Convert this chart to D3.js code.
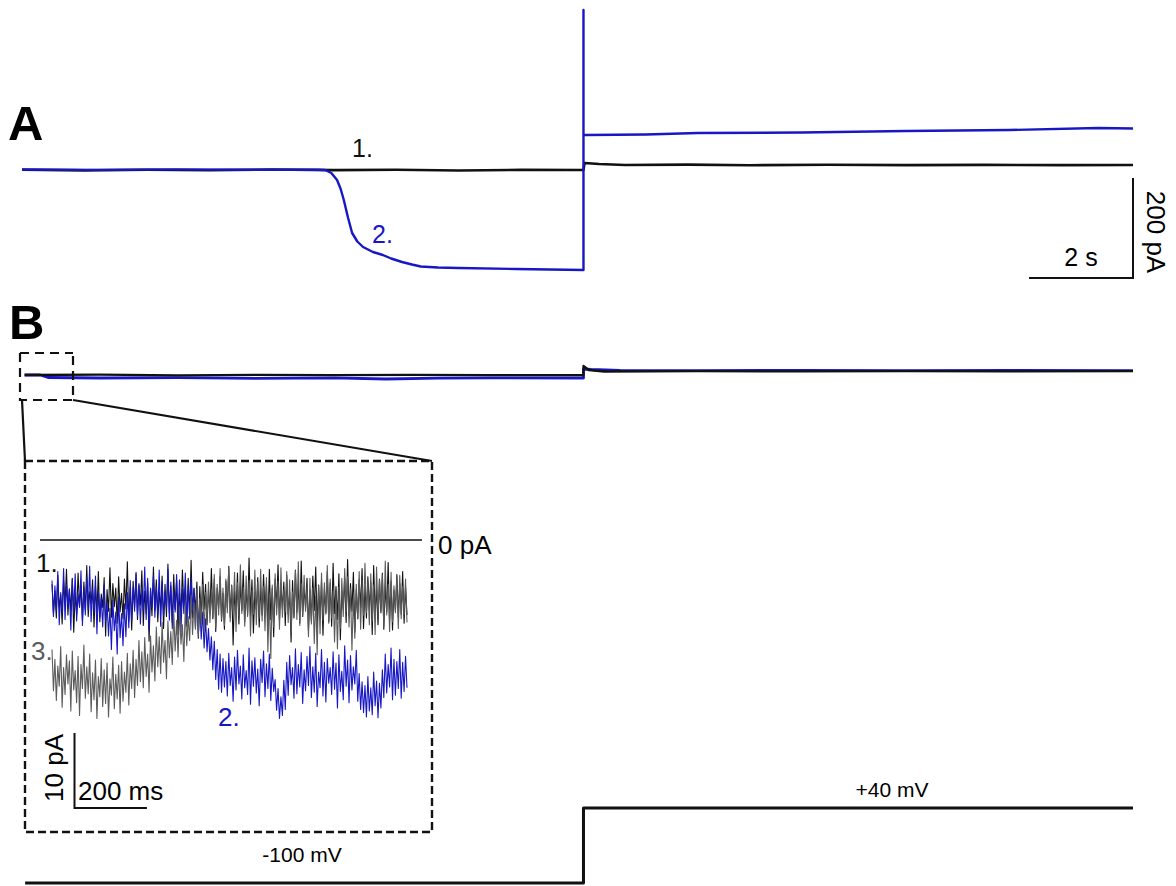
<!DOCTYPE html>
<html lang="en">
<head>
<meta charset="UTF-8">
<title>Traces</title>
<script src="https://d3js.org/d3.v7.min.js"></script>
<style>
    body { margin: 0; background: #fff; }
    text { font-family: "Liberation Sans", Arial, sans-serif; }
    .trace { fill: none; stroke-linejoin: round; }
    .panel { font-weight: bold; font-size: 49px; }
</style>
</head>
<body>
<svg width="1176" height="886"></svg>
<script>
    // panel A: time (s) and current (pA, relative to holding baseline)
    const aBlackT = [0, 1.2, 2.4, 3.6, 4.8, 6.0, 7.2, 8.4, 9.6, 10.8, 10.82, 11.1, 11.6, 12.8, 14.0, 15.5, 17.0, 18.5, 20.0, 21.37];
    const aBlackI = [0.6, -0.8, 0.4, -0.6, 0.9, -0.3, 0.5, -0.9, 0.2, 0, 14, 12, 10, 10.8, 9.6, 10.4, 9.8, 10.2, 9.7, 10];
    const aBlueT = [0, 1.5, 3.0, 4.5, 5.7, 5.83, 5.95, 6.06, 6.13, 6.19, 6.27, 6.35, 6.45, 6.56, 6.75, 6.94, 7.1, 7.31, 7.5, 7.67, 8.0, 8.4, 9.5, 10.8, 10.8, 10.8, 10.85, 12.0, 13.0, 15.0, 17.0, 19.0, 20.7, 21.37];
    const aBlueI = [1.0, 0.2, 1.2, 0.4, 0.6, 0, -6, -20, -38, -60, -95, -126, -143, -154, -164, -170, -177, -184, -189, -193, -195, -196, -198, -200, 320, 70, 70, 71, 74, 75, 78, 80, 84, 83];

    // panel B (same scales as A)
    const bBlackT = [0.05, 1.5, 3.0, 4.5, 6.0, 7.5, 9.0, 10.8, 10.8, 10.9, 11.2, 13.0, 15.0, 17.0, 19.0, 21.37];
    const bBlackI = [-8, -7.4, -8.6, -7.6, -8.4, -7.8, -8.2, -8, 10, 2, -1, -0.4, -0.8, -0.2, -0.6, -0.4];
    const bBlueT = [0.05, 0.35, 0.5, 1.5, 3.0, 4.5, 6.0, 7.0, 8.0, 9.0, 10.8, 10.8, 10.95, 11.5, 13.0, 15.0, 17.0, 19.0, 21.37];
    const bBlueI = [-8, -8, -13, -14, -13.4, -14.6, -13.6, -16, -14.2, -13.8, -14, 4, 3, 1.4, 0.8, 1.2, 0.6, 1.0, 0.8];

    // inset: 4 ms sampling (0-980 ms), current in pA
    const inTimes = d3.range(0, 984, 4);
    const trace1 = [
        -5.9,-9.8,-6.8,-10.4,-4.7,-9.1,-7.3,-11.2,-5.4,-8.6,-3.9,-10.0,
        -6.5,-9.4,-5.1,-12.3,-7.0,-9.9,-4.4,-8.8,-6.2,-10.7,-5.6,-9.3,
        -3.4,-10.2,-6.9,-8.5,-5.3,-11.6,-6.1,-9.7,-4.2,-10.9,-7.2,-9.0,
        -5.0,-12.8,-6.6,-9.5,-3.7,-10.3,-5.8,-8.9,-6.4,-11.1,-4.9,-9.6,
        -7.1,-10.5,-5.2,-9.2,-2.9,-10.8,-6.3,-12.0,-5.5,-9.0,-4.5,-10.6,
        -6.0,-8.7,-4.1,-11.4,-6.8,-9.8,-5.7,-13.5,-6.6,-10.1,-3.6,-9.4,
        -5.3,-10.9,-6.9,-9.1,-4.8,-11.8,-5.9,-10.2,-3.2,-9.7,-6.1,-11.0,
        -4.6,-9.3,-5.4,-12.6,-7.0,-10.0,-4.0,-8.8,-6.3,-11.5,-5.1,-9.9,
        -2.7,-10.4,-6.5,-9.5,-5.6,-13.1,-6.2,-10.7,-4.3,-9.2,-5.9,-11.3,
        -6.7,-9.6,-3.8,-10.5,-5.2,-12.2,-6.4,-9.1,-4.9,-10.8,-7.1,-11.9,
        -5.5,-9.0,-3.5,-10.3,-6.0,-14.0,-6.8,-9.7,-4.4,-11.2,-5.7,-9.4,
        -4.1,-10.9,-6.6,-9.8,-2.4,-10.1,-5.3,-12.4,-6.9,-9.3,-5.0,-11.6,
        -6.2,-10.0,-4.6,-9.5,-5.8,-11.9,-3.9,-10.6,-6.4,-12.9,-5.2,-9.1,
        -3.3,-10.7,-6.1,-9.2,-5.6,-11.4,-4.7,-9.9,-6.9,-13.6,-5.4,-10.4,
        -4.0,-9.6,-5.9,-11.1,-2.8,-10.2,-6.3,-9.0,-5.1,-12.1,-6.7,-10.8,
        -4.8,-9.4,-3.6,-11.7,-6.0,-10.3,-5.5,-12.7,-6.5,-9.7,-4.2,-10.9,
        -5.7,-11.5,-3.1,-9.8,-6.2,-10.6,-4.5,-13.3,-6.8,-9.2,-5.0,-11.0,
        -2.6,-10.1,-5.8,-9.5,-4.3,-12.3,-6.6,-10.5,-5.3,-9.0,-3.8,-11.8,
        -6.1,-10.4,-4.9,-9.3,-5.6,-12.6,-3.4,-10.0,-6.4,-11.3,-5.2,-9.7,
        -4.4,-11.9,-6.0,-9.6,-3.0,-10.7,-5.5,-12.0,-6.7,-9.4,-4.6,-10.3,
        -5.8,-9.9,-4.2,-11.1,-6.3,-10.0];
    const trace2 = [
        -5.4,-10.2,-6.1,-9.4,-4.2,-11.3,-7.0,-9.8,-3.8,-10.6,-5.9,-9.1,
        -6.6,-12.0,-5.2,-9.6,-4.5,-10.8,-7.2,-9.0,-4.1,-11.4,-6.3,-10.0,
        -5.0,-9.3,-3.5,-10.9,-6.5,-9.7,-4.8,-12.5,-6.9,-10.3,-7.8,-11.6,
        -6.0,-10.9,-8.3,-12.8,-9.1,-14.6,-8.0,-12.1,-9.6,-15.2,-7.6,-13.0,
        -9.8,-14.1,-8.5,-12.9,-7.0,-11.7,-5.4,-10.8,-6.3,-9.5,-4.3,-10.1,
        -5.8,-11.2,-6.7,-9.4,-3.6,-10.6,-5.1,-12.0,-6.4,-9.0,-4.7,-10.3,
        -6.2,-9.9,-4.0,-11.5,-5.5,-10.1,-6.8,-9.2,-3.9,-10.7,-5.6,-11.8,
        -6.9,-9.6,-4.6,-10.4,-5.3,-12.3,-6.5,-9.8,-4.4,-11.0,-6.0,-10.5,
        -5.1,-9.4,-6.4,-11.7,-7.2,-12.5,-8.8,-13.2,-9.6,-14.4,-10.5,-14.9,
        -11.8,-16.0,-12.9,-17.3,-13.5,-18.6,-14.6,-19.9,-15.2,-20.3,-15.8,-19.6,
        -16.2,-20.8,-15.1,-19.4,-17.0,-21.5,-15.6,-20.0,-14.7,-19.2,-16.8,-21.2,
        -15.3,-19.7,-17.4,-20.6,-14.4,-21.9,-16.1,-19.5,-15.7,-20.4,-17.2,-22.1,
        -15.9,-19.0,-14.8,-20.9,-16.5,-19.8,-15.2,-21.4,-17.1,-20.2,-18.6,-22.7,
        -19.8,-23.8,-20.9,-23.4,-18.7,-22.6,-16.3,-20.7,-15.4,-19.3,-17.0,-21.1,
        -14.5,-20.5,-16.6,-19.6,-15.0,-21.8,-17.3,-20.1,-15.5,-19.4,-14.2,-21.0,
        -16.9,-20.3,-15.1,-22.2,-17.6,-19.7,-14.6,-20.8,-16.3,-21.6,-15.8,-19.1,
        -17.0,-20.6,-14.9,-19.9,-16.4,-22.4,-15.3,-20.2,-17.5,-21.3,-14.1,-19.5,
        -16.0,-21.7,-15.4,-20.0,-16.9,-19.2,-14.7,-21.5,-17.8,-22.6,-18.9,-23.0,
        -19.4,-23.6,-18.2,-22.8,-19.7,-23.3,-17.6,-22.1,-18.8,-23.7,-19.1,-22.4,
        -17.3,-21.0,-15.2,-20.4,-16.6,-19.6,-14.4,-21.3,-15.9,-20.7,-16.2,-19.8,
        -14.6,-21.1,-16.3,-20.2,-15.5,-19.7];
    const trace3 = [
        -14.6,-20.1,-15.9,-21.4,-16.8,-19.5,-14.2,-22.3,-17.0,-20.6,-15.3,-19.2,
        -16.1,-22.8,-14.8,-20.0,-17.4,-21.7,-15.5,-23.4,-16.6,-19.8,-14.0,-21.1,
        -16.9,-20.5,-15.2,-22.9,-17.7,-21.3,-16.0,-23.8,-18.2,-20.9,-15.8,-22.2,
        -17.3,-21.8,-16.4,-23.6,-18.5,-20.7,-15.6,-22.5,-17.9,-21.2,-16.7,-23.1,
        -16.2,-21.5,-17.6,-20.3,-15.1,-22.0,-16.5,-19.8,-14.7,-21.0,-15.9,-19.4,
        -13.4,-18.9,-14.9,-19.7,-13.0,-18.2,-15.2,-20.3,-12.8,-17.6,-14.1,-18.8,
        -11.6,-16.9,-12.9,-17.8,-11.0,-16.3,-13.4,-18.5,-10.8,-15.7,-12.2,-16.6,
        -9.5,-14.8,-10.7,-15.6,-9.0,-13.9,-11.3,-16.2,-8.8,-14.1,-10.2,-13.4,
        -7.4,-12.6,-8.3,-11.9,-6.5,-12.9,-7.8,-11.2,-5.9,-12.3,-7.0,-10.8,
        -5.6,-11.0,-6.8,-10.3,-4.6,-11.7,-5.9,-10.0,-3.8,-10.6,-6.4,-11.4,
        -5.2,-9.7,-3.6,-10.9,-6.1,-9.5,-4.3,-12.2,-5.7,-10.1,-3.3,-9.8,
        -6.3,-11.5,-4.8,-10.2,-5.4,-12.8,-6.7,-9.9,-4.0,-11.3,-5.6,-10.4,
        -3.9,-10.8,-6.2,-12.1,-5.0,-14.9,-7.3,-15.8,-6.0,-11.6,-4.5,-10.0,
        -5.5,-11.9,-3.7,-10.3,-6.6,-9.6,-4.2,-11.0,-5.3,-12.4,-6.9,-9.8,
        -4.1,-10.6,-2.9,-11.4,-5.8,-10.1,-4.7,-9.5,-6.2,-12.9,-5.1,-11.2,
        -6.4,-13.8,-7.5,-15.3,-6.1,-12.5,-4.4,-10.7,-5.7,-9.9,-3.4,-11.1,
        -5.2,-10.4,-6.8,-13.6,-7.0,-14.5,-6.3,-11.8,-5.1,-10.2,-3.8,-9.6,
        -4.9,-11.6,-6.5,-14.7,-7.6,-13.1,-5.9,-10.5,-4.2,-11.9,-5.4,-10.0,
        -3.1,-9.7,-5.6,-11.3,-4.5,-10.8,-6.0,-12.6,-3.6,-10.2,-5.3,-9.4,
        -4.6,-11.5,-2.8,-10.0,-5.9,-12.2,-4.3,-10.9,-6.1,-9.7,-5.0,-11.8,
        -4.7,-10.5,-6.2,-9.9,-5.2,-11.0];

    // voltage protocol (s, mV)
    const vT = [0.06, 10.8, 10.8, 21.37];
    const vV = [-100, -100, 40, 40];

    const blue = "#1717c4", grey = "#5c5c5c", ink = "#111";
    const svg = d3.select("svg");

    const x = d3.scaleLinear().domain([0, 21.37]).range([22, 1133]);
    const yA = d3.scaleLinear().domain([0, -200]).range([170, 270]);
    const yB = d3.scaleLinear().domain([0, -200]).range([371, 471]);
    const xIn = d3.scaleLinear().domain([0, 980]).range([52, 407]);
    const yIn = d3.scaleLinear().domain([0, -10]).range([540, 615]);
    const yV = d3.scaleLinear().domain([-100, 40]).range([883, 808]);

    function drawTrace(ts, vs, xs, ys, color, w) {
        svg.append("path")
            .attr("class", "trace")
            .attr("d", d3.line().x(d => xs(d[0])).y(d => ys(d[1]))(d3.zip(ts, vs)))
            .attr("stroke", color)
            .attr("stroke-width", w);
    }

    // panel A
    svg.append("text").attr("class", "panel").attr("x", 8).attr("y", 140).text("A");
    drawTrace(aBlackT, aBlackI, x, yA, ink, 2.6);
    drawTrace(aBlueT, aBlueI, x, yA, blue, 2.4);
    svg.append("text").attr("x", 352).attr("y", 157).attr("font-size", 25).attr("fill", ink).text("1.");
    svg.append("text").attr("x", 372).attr("y", 243).attr("font-size", 25).attr("fill", blue).text("2.");

    // scale bar A
    const sbX = x(21.37), sbY = yA(-216);
    svg.append("path")
        .attr("d", `M${sbX - (x(2) - x(0))},${sbY}H${sbX}V${sbY - (yA(-200) - yA(0))}`)
        .attr("fill", "none").attr("stroke", ink).attr("stroke-width", 2);
    svg.append("text").attr("x", 1081).attr("y", 266).attr("font-size", 25)
        .attr("text-anchor", "middle").text("2 s");
    svg.append("text").attr("transform", "translate(1147,232) rotate(90)")
        .attr("font-size", 26).attr("text-anchor", "middle").text("200 pA");

    // panel B
    svg.append("text").attr("class", "panel").attr("x", 9).attr("y", 339).text("B");
    drawTrace(bBlueT, bBlueI, x, yB, blue, 2.8);
    drawTrace(bBlackT, bBlackI, x, yB, ink, 2.3);

    // zoom box and connector lines
    svg.append("path").attr("d", "M20,353H73M20,353V400H73V353")
        .attr("fill", "none").attr("stroke", ink).attr("stroke-width", 2.2)
        .attr("stroke-dasharray", "9,6");
    svg.append("path").attr("d", "M22,400L25,461M73,400L432,461")
        .attr("fill", "none").attr("stroke", ink).attr("stroke-width", 2.2);
    svg.append("rect").attr("x", 25).attr("y", 461).attr("width", 407).attr("height", 371)
        .attr("fill", "none").attr("stroke", ink).attr("stroke-width", 2.4)
        .attr("stroke-dasharray", "8,4");

    // inset
    svg.append("line").attr("x1", 40).attr("x2", 422).attr("y1", yIn(0)).attr("y2", yIn(0))
        .attr("stroke", ink).attr("stroke-width", 1.6);
    svg.append("text").attr("x", 438).attr("y", 554).attr("font-size", 26).text("0 pA");
    drawTrace(inTimes, trace1, xIn, yIn, ink, 1.1);
    drawTrace(inTimes, trace2, xIn, yIn, blue, 1.1);
    drawTrace(inTimes, trace3, xIn, yIn, grey, 1.1);
    svg.append("text").attr("x", 36).attr("y", 572).attr("font-size", 26).attr("fill", ink).text("1.");
    svg.append("text").attr("x", 31).attr("y", 660).attr("font-size", 26).attr("fill", grey).text("3.");
    svg.append("text").attr("x", 218).attr("y", 726).attr("font-size", 26).attr("fill", blue).text("2.");

    // scale bar inset
    const isX = 74.5, isY = 808;
    svg.append("path")
        .attr("d", `M${isX + (xIn(200) - xIn(0))},${isY}H${isX}V${isY - (yIn(-10) - yIn(0))}`)
        .attr("fill", "none").attr("stroke", ink).attr("stroke-width", 2);
    svg.append("text").attr("x", 78).attr("y", 800).attr("font-size", 26).text("200 ms");
    svg.append("text").attr("transform", "translate(63,768) rotate(-90)")
        .attr("font-size", 26).attr("text-anchor", "middle").text("10 pA");

    // voltage protocol
    drawTrace(vT, vV, x, yV, ink, 3);
    svg.append("text").attr("x", 302).attr("y", 862).attr("font-size", 21)
        .attr("text-anchor", "middle").text("-100 mV");
    svg.append("text").attr("x", 892).attr("y", 797).attr("font-size", 21)
        .attr("text-anchor", "middle").text("+40 mV");
</script>
</body>
</html>
